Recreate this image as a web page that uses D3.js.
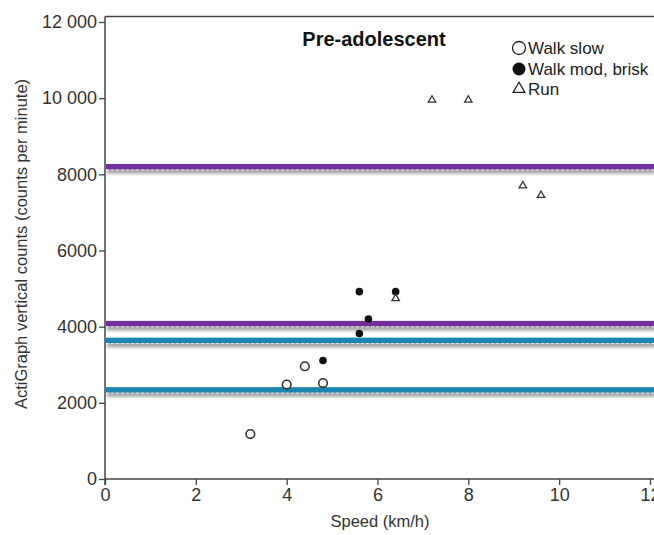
<!DOCTYPE html>
<html>
<head>
<meta charset="utf-8">
<script src="https://cdn.jsdelivr.net/npm/d3@7"></script>
<style>
  html, body { margin: 0; padding: 0; background: #fff; }
  svg { display: block; font-family: "Liberation Sans", Arial, sans-serif; }
</style>
</head>
<body>
<svg id="chart" width="654" height="535"></svg>
<script>
// Speed (km/h) and ActiGraph vertical counts per activity
const walkSlowSpeed = [3.2, 4.0, 4.4, 4.8];
const walkSlowCounts = [1180, 2480, 2960, 2520];
const walkBriskSpeed = [4.8, 5.6, 5.8, 5.6, 6.4];
const walkBriskCounts = [3110, 3820, 4200, 4920, 4920];
const runSpeed = [6.4, 7.2, 8.0, 9.2, 9.6];
const runCounts = [4740, 9950, 9950, 7700, 7450];

// Cut-point reference lines
const cutPoints = [8200, 4080, 3640, 2340];
const cutColors = ["#71309b", "#71309b", "#1a86b1", "#1a86b1"];

const xTicks = [0, 2, 4, 6, 8, 10, 12];
const yTicks = [0, 2000, 4000, 6000, 8000, 10000, 12000];
const yTickLabels = ["0", "2000", "4000", "6000", "8000", "10 000", "12 000"];

const legendLabels = ["Walk slow", "Walk mod, brisk", "Run"];

const svg = d3.select("#chart");
const x = d3.scaleLinear().domain([0, 12]).range([105, 650]);
const y = d3.scaleLinear().domain([0, 12000]).range([479, 22]);

const defs = svg.append("defs");
defs.append("filter").attr("id", "soft")
  .attr("filterUnits", "userSpaceOnUse")
  .attr("x", 0).attr("y", 0).attr("width", 654).attr("height", 535)
  .append("feGaussianBlur").attr("stdDeviation", 1.6);

// Plot frame top edge
svg.append("line")
  .attr("x1", x(0)).attr("x2", 654).attr("y1", 16.5).attr("y2", 16.5)
  .attr("stroke", "#444").attr("stroke-width", 1.5);

// Reference lines with a soft shadow underneath
const refs = svg.append("g");
const lineH = 5.5;
cutPoints.forEach((v, i) => {
  refs.append("rect")
    .attr("x", x(0) + 2).attr("width", 654 - x(0))
    .attr("y", y(v) + 1).attr("height", 6)
    .attr("fill", "#8a8a8a").attr("opacity", 0.75)
    .attr("filter", "url(#soft)");
  refs.append("rect")
    .attr("x", x(0) + 1).attr("width", 654 - x(0))
    .attr("y", y(v) - lineH / 2).attr("height", lineH)
    .attr("fill", cutColors[i]);
  refs.append("line")
    .attr("x1", x(0) + 1).attr("x2", 654)
    .attr("y1", y(v) + lineH / 2 + 0.4).attr("y2", y(v) + lineH / 2 + 0.4)
    .attr("stroke", "#fff").attr("stroke-width", 0.8)
    .attr("stroke-dasharray", "3,2").attr("opacity", 0.85);
});

// Axes
const axisFont = "'Liberation Sans', Arial, sans-serif";
const xAxis = d3.axisBottom(x).tickValues(xTicks).tickSize(6).tickPadding(3);
const gx = svg.append("g").attr("transform", `translate(0,${y(0)})`).call(xAxis);
gx.select(".domain").attr("d", `M${x(0)},0H654`);
const yAxis = d3.axisLeft(y).tickValues(yTicks).tickSize(6).tickPadding(2)
  .tickFormat((d, i) => yTickLabels[i]);
const gy = svg.append("g").attr("transform", `translate(${x(0)},0)`).call(yAxis);
gy.select(".domain").attr("d", `M0,16.5V${y(0) + 6}`);

[gx, gy].forEach(g => {
  g.selectAll(".domain").attr("stroke", "#444").attr("stroke-width", 1.5);
  g.selectAll(".tick line").attr("stroke", "#444").attr("stroke-width", 1.3);
  g.selectAll(".tick text").attr("fill", "#333").style("font-size", "18px")
    .style("font-family", axisFont);
});

// Axis titles
svg.append("text").attr("x", 380).attr("y", 527).attr("text-anchor", "middle")
  .attr("fill", "#333").style("font-size", "16.5px").text("Speed (km/h)");
svg.append("text")
  .attr("transform", "translate(27,244) rotate(-90)")
  .attr("text-anchor", "middle").attr("fill", "#333").style("font-size", "16.5px")
  .text("ActiGraph vertical counts (counts per minute)");

// Title
svg.append("text").attr("x", 374).attr("y", 46).attr("text-anchor", "middle")
  .attr("fill", "#111").style("font-size", "20px").style("font-weight", "bold")
  .text("Pre-adolescent");

// Markers
const tri = d3.symbol().type(d3.symbolTriangle).size(24);
const pts = svg.append("g");
pts.selectAll("circle.slow").data(d3.zip(walkSlowSpeed, walkSlowCounts)).join("circle")
  .attr("class", "slow").attr("cx", d => x(d[0])).attr("cy", d => y(d[1])).attr("r", 4.3)
  .attr("fill", "#fff").attr("stroke", "#333").attr("stroke-width", 1.6);
pts.selectAll("circle.brisk").data(d3.zip(walkBriskSpeed, walkBriskCounts)).join("circle")
  .attr("class", "brisk").attr("cx", d => x(d[0])).attr("cy", d => y(d[1])).attr("r", 3.8)
  .attr("fill", "#111");
pts.selectAll("path.run").data(d3.zip(runSpeed, runCounts)).join("path")
  .attr("class", "run").attr("d", tri)
  .attr("transform", d => `translate(${x(d[0])},${y(d[1])})`)
  .attr("fill", "#fff").attr("stroke", "#333").attr("stroke-width", 1.3);

// Legend
const lg = svg.append("g").attr("transform", "translate(519,0)");
lg.append("circle").attr("cx", 0).attr("cy", 48).attr("r", 6.5)
  .attr("fill", "#fff").attr("stroke", "#222").attr("stroke-width", 1.3);
lg.append("circle").attr("cx", 0).attr("cy", 69).attr("r", 6.5).attr("fill", "#111");
lg.append("path").attr("d", d3.symbol().type(d3.symbolTriangle).size(60))
  .attr("transform", "translate(0,89)")
  .attr("fill", "#fff").attr("stroke", "#222").attr("stroke-width", 1.3);
legendLabels.forEach((t, i) => {
  lg.append("text").attr("x", 9).attr("y", 54 + i * 20.5)
    .attr("fill", "#222").style("font-size", "17px").text(t);
});
</script>
</body>
</html>
